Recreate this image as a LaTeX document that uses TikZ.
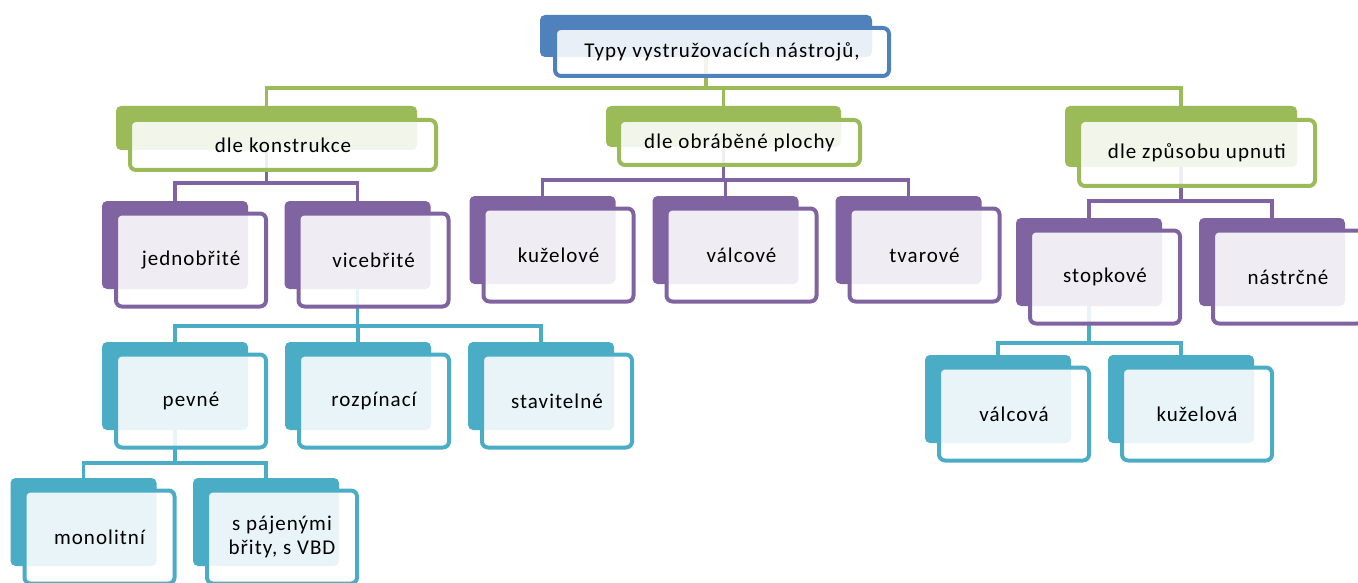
\documentclass[tikz,border=0pt]{standalone}
\usepackage{fontspec}
\setmainfont[LetterSpace=5]{Carlito}
\definecolor{cgreen}{HTML}{9BBB59}
\definecolor{cpurple}{HTML}{8064A2}
\definecolor{cteal}{HTML}{4BACC6}
\definecolor{cblue}{HTML}{4F81BD}
\pgfdeclarelayer{bg}
\pgfsetlayers{bg,main}
\tikzset{
  backbox/.style={rectangle, rounded corners=5pt, fill=#1, draw=none, inner sep=0pt},
  frontbox/.style={rectangle, rounded corners=6pt, draw=#1, line width=4pt, fill=white,
    fill opacity=0.88, text opacity=1, draw opacity=1, inner sep=0pt, text=black,
    font=\fontsize{21}{24}\selectfont, align=center},
  conn/.style={draw=#1, line width=3.4pt},
}
\newcommand\levbox[5]{%
  \node[backbox=#2, minimum width=146pt, minimum height=88pt] (b-#1) at (#3,#4) {};
  \path (#3,#4) ++(16,15) node[frontbox=#2, minimum width=150pt, minimum height=93pt] (#1) {#5};
}
\begin{document}
\begin{tikzpicture}[x=1pt,y=-1pt]
\useasboundingbox (0,0) rectangle (1358,583);
\clip (0,0) rectangle (1358,583);
% root
\node[backbox=cblue, minimum width=332pt, minimum height=42pt] (b-root) at (706,36) {};
\node[frontbox=cblue, minimum width=334pt, minimum height=48pt] (root) at (722,52) {Typy vystružovacích nástrojů,};
% level 1
\node[backbox=cgreen, minimum width=301pt, minimum height=44pt] (b-k1) at (266.5,128) {};
\node[frontbox=cgreen, minimum width=306pt, minimum height=50pt] (k1) at (283,145) {dle konstrukce};
\node[backbox=cgreen, minimum width=235pt, minimum height=41pt] (b-k2) at (723.5,126.5) {};
\node[frontbox=cgreen, minimum width=241pt, minimum height=45pt] (k2) at (739.5,142.5) {dle obráběné plochy};
\node[backbox=cgreen, minimum width=232pt, minimum height=61pt] (b-k3) at (1181,136.5) {};
\node[frontbox=cgreen, minimum width=236pt, minimum height=66pt] (k3) at (1197,153) {dle způsobu upnuti};
% level 2
\levbox{jed}{cpurple}{175}{245}{jednobřité}
\levbox{vic}{cpurple}{357.5}{245}{vicebřité}
\levbox{kuz}{cpurple}{542.5}{240}{kuželové}
\levbox{val}{cpurple}{725.5}{240}{válcové}
\levbox{tva}{cpurple}{908.5}{240}{tvarové}
\levbox{sto}{cpurple}{1089}{262}{stopkové}
\levbox{nas}{cpurple}{1272}{262}{nástrčné}
% level 3
\levbox{pev}{cteal}{175}{386}{pevné}
\levbox{roz}{cteal}{358}{386}{rozpínací}
\levbox{sta}{cteal}{541}{386}{stavitelné}
\levbox{valc}{cteal}{998}{399}{válcová}
\levbox{kuzl}{cteal}{1181}{399}{kuželová}
% level 4
\levbox{mon}{cteal}{83.5}{522}{monolitní}
\levbox{spa}{cteal}{266}{522}{s pájenými\\břity, s VBD}
% bus levels
\coordinate (busA) at (0,88);
\coordinate (busB) at (0,183);
\coordinate (busC) at (0,180);
\coordinate (busD) at (0,201);
\coordinate (busE) at (0,326);
\coordinate (busF) at (0,343);
\coordinate (busG) at (0,463);
\begin{pgfonlayer}{bg}
\draw[conn=cgreen] (b-k1.north) -- (b-k1.north |- busA) -- (b-k3.north |- busA) -- (b-k3.north);
\draw[conn=cgreen] (b-root.south) -- (b-root.south |- busA);
\draw[conn=cgreen] (b-k2.north |- busA) -- (b-k2.north);
%
\draw[conn=cpurple] (b-jed.north) -- (b-jed.north |- busB) -- (b-vic.north |- busB) -- (b-vic.north);
\draw[conn=cpurple] (b-k1.south) -- (b-k1.south |- busB);
%
\draw[conn=cpurple] (b-kuz.north) -- (b-kuz.north |- busC) -- (b-tva.north |- busC) -- (b-tva.north);
\draw[conn=cpurple] (b-k2.south) -- (b-k2.south |- busC);
\draw[conn=cpurple] (b-val.north |- busC) -- (b-val.north);
%
\draw[conn=cpurple] (b-sto.north) -- (b-sto.north |- busD) -- (b-nas.north |- busD) -- (b-nas.north);
\draw[conn=cpurple] (b-k3.south) -- (b-k3.south |- busD);
%
\draw[conn=cteal] (b-pev.north) -- (b-pev.north |- busE) -- (b-sta.north |- busE) -- (b-sta.north);
\draw[conn=cteal] (b-vic.south) -- (b-vic.south |- busE);
\draw[conn=cteal] (b-roz.north |- busE) -- (b-roz.north);
%
\draw[conn=cteal] (b-valc.north) -- (b-valc.north |- busF) -- (b-kuzl.north |- busF) -- (b-kuzl.north);
\draw[conn=cteal] (b-sto.south) -- (b-sto.south |- busF);
%
\draw[conn=cteal] (b-mon.north) -- (b-mon.north |- busG) -- (b-spa.north |- busG) -- (b-spa.north);
\draw[conn=cteal] (b-pev.south) -- (b-pev.south |- busG);
\end{pgfonlayer}
\end{tikzpicture}
\end{document}
